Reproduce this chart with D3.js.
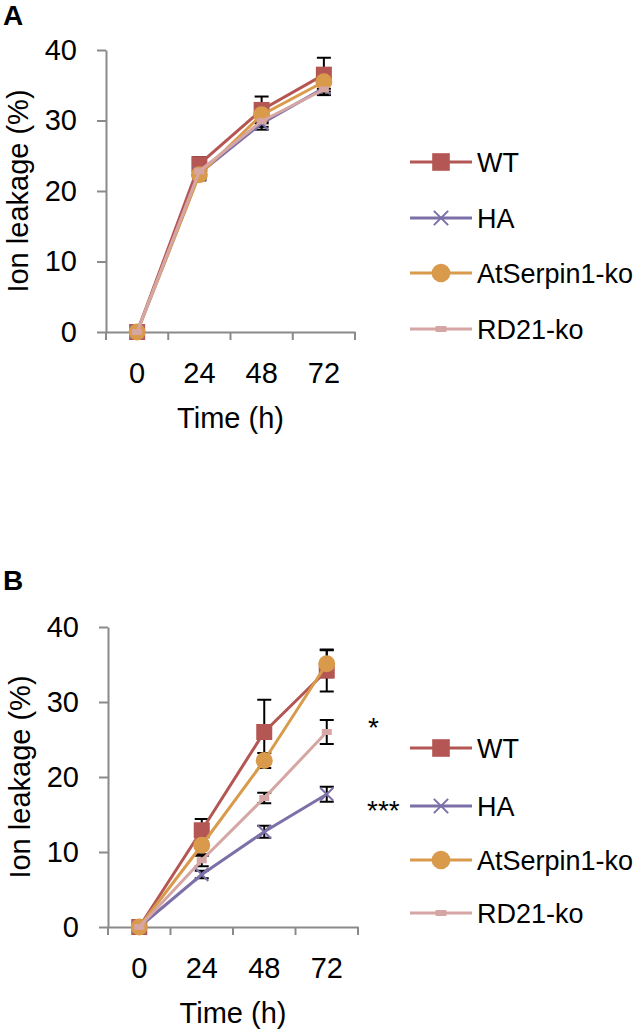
<!DOCTYPE html>
<html><head><meta charset="utf-8">
<script src="https://cdn.jsdelivr.net/npm/d3@7"></script>
<style>
body{margin:0;background:#fff;}
svg{display:block;font-family:"Liberation Sans",Arial,sans-serif;}
</style></head>
<body>
<svg id="c" width="641" height="1032"></svg>
<script>
const categories = ["0","24","48","72"];
const yTicks = [0,10,20,30,40];
const seriesNames = ["WT","HA","AtSerpin1-ko","RD21-ko"];
const seriesColors = ["#b45653","#7d70a8","#d99a4c","#d5a6a4"];
const seriesMarkers = ["square","cross","circle","dash"];

// Panel A
const aWT = [0, 23.8, 31.5, 36.5];
const aWTErr = [0, 1.0, 1.9, 2.4];
const aHA = [0, 22.5, 29.6, 34.6];
const aHAErr = [0, 0.8, 0.9, 0.9];
const aSerpin = [0, 22.3, 30.8, 35.5];
const aSerpinErr = [0, 0.8, 1.0, 1.0];
const aRD21 = [0, 22.8, 29.9, 34.4];
const aRD21Err = [0, 0.5, 0.8, 0.8];

// Panel B
const bWT = [0, 12.9, 26.0, 34.2];
const bWTErr = [0, 1.5, 4.3, 2.8];
const bHA = [0, 7.0, 12.7, 17.7];
const bHAErr = [0, 0.5, 0.8, 1.0];
const bSerpin = [0, 10.9, 22.2, 35.1];
const bSerpinErr = [0, 1.4, 1.0, 1.8];
const bRD21 = [0, 8.9, 17.2, 26.0];
const bRD21Err = [0, 0.8, 0.7, 1.6];
const bStars = ["*", "***", "", ""];

const svg = d3.select("#c");
const FONT = "Liberation Sans, Arial, sans-serif";

function drawPanel(o){
  const g = svg.append("g");
  const x = d3.scaleBand().domain(categories).range([o.x0, o.x1]);
  const y = d3.scaleLinear().domain([0,40]).range([o.y0, o.y1]);
  const axisColor = "#8a8a8a";

  // y axis
  const ya = g.append("g").attr("transform",`translate(${o.x0},0)`)
    .call(d3.axisLeft(y).tickValues(yTicks).tickSize(9).tickPadding(20).tickSizeOuter(0));
  ya.select(".domain").attr("stroke",axisColor).attr("stroke-width",2);
  ya.selectAll(".tick line").attr("stroke",axisColor).attr("stroke-width",2);
  ya.selectAll(".tick text").attr("font-size",29).attr("fill","#000").attr("font-family",FONT);

  // x axis
  const xa = g.append("g").attr("transform",`translate(0,${o.y0})`)
    .call(d3.axisBottom(x).tickSize(0).tickPadding(30).tickSizeOuter(0));
  xa.select(".domain").attr("stroke",axisColor).attr("stroke-width",2);
  xa.selectAll(".tick line").remove();
  xa.selectAll(".tick text").attr("font-size",29).attr("fill","#000").attr("font-family",FONT);
  // category boundary ticks
  const bounds = categories.map(c=>x(c)).concat([x(categories[categories.length-1])+x.bandwidth()]);
  g.selectAll(".xb").data(bounds).enter().append("line")
    .attr("x1",d=>d).attr("x2",d=>d).attr("y1",o.y0).attr("y2",o.y0+8)
    .attr("stroke",axisColor).attr("stroke-width",2);

  // titles
  g.append("text").attr("x",(o.x0+o.x1)/2).attr("y",o.y0+96).attr("text-anchor","middle")
    .attr("font-size",29).text("Time (h)");
  g.append("text").attr("transform",`translate(${o.x0-78},${(o.y0+o.y1)/2}) rotate(-90)`)
    .attr("text-anchor","middle").attr("font-size",29).text("Ion leakage (%)");
  g.append("text").attr("x",3).attr("y",o.labelY).attr("font-size",28).attr("font-weight","bold").text(o.label);

  const cx = c => x(c) + x.bandwidth()/2;

  // error bars
  o.series.forEach((s)=>{
    s.vals.forEach((v,i)=>{
      const e = s.err[i]; if(!e) return;
      const px = cx(categories[i]);
      const eg = g.append("g").attr("stroke","#000").attr("stroke-width",2);
      eg.append("line").attr("x1",px).attr("x2",px).attr("y1",y(v-e)).attr("y2",y(v+e));
      eg.append("line").attr("x1",px-7).attr("x2",px+7).attr("y1",y(v+e)).attr("y2",y(v+e));
      eg.append("line").attr("x1",px-7).attr("x2",px+7).attr("y1",y(v-e)).attr("y2",y(v-e));
    });
  });

  const line = d3.line().x((d,i)=>cx(categories[i])).y(d=>y(d));
  o.series.forEach((s,si)=>{
    g.append("path").attr("d",line(s.vals)).attr("fill","none")
      .attr("stroke",seriesColors[si]).attr("stroke-width",3);
    s.vals.forEach((v,i)=>drawMarker(g, seriesMarkers[si], cx(categories[i]), y(v), seriesColors[si], 1));
  });

  // legend
  seriesNames.forEach((n,i)=>{
    const ly = o.legY[i];
    g.append("line").attr("x1",410).attr("x2",472).attr("y1",ly).attr("y2",ly)
      .attr("stroke",seriesColors[i]).attr("stroke-width",3);
    drawMarker(g, seriesMarkers[i], 441, ly, seriesColors[i], 1.1);
    g.append("text").attr("x",477).attr("y",ly+10).attr("font-size",27).text(n);
    if (o.stars && o.stars[i]) {
      g.append("text").attr("x",o.starX[i]).attr("y",o.starY[i]).attr("font-size",28).text(o.stars[i]);
    }
  });
}

function drawMarker(g, type, px, py, color, k){
  if(type==="square"){
    const h = 8*k;
    g.append("rect").attr("x",px-h).attr("y",py-h).attr("width",2*h).attr("height",2*h).attr("fill",color);
  } else if(type==="circle"){
    g.append("circle").attr("cx",px).attr("cy",py).attr("r",8.5*k).attr("fill",color);
  } else if(type==="cross"){
    const h = 6.5*k;
    g.append("path").attr("d",`M${px-h},${py-h}L${px+h},${py+h}M${px-h},${py+h}L${px+h},${py-h}`)
      .attr("stroke",color).attr("stroke-width",2);
  } else if(type==="dash"){
    g.append("rect").attr("x",px-5*k).attr("y",py-3).attr("width",10*k).attr("height",6).attr("fill",color);
  }
}

drawPanel({x0:106,x1:355,y0:332,y1:50,label:"A",labelY:25,
  legY:[162,218,273,329],
  series:[{vals:aWT,err:aWTErr},{vals:aHA,err:aHAErr},{vals:aSerpin,err:aSerpinErr},{vals:aRD21,err:aRD21Err}]});
drawPanel({x0:108,x1:358,y0:927,y1:627,label:"B",labelY:590,
  legY:[748,806,860,913],
  stars:bStars, starX:[368,367], starY:[737,820],
  series:[{vals:bWT,err:bWTErr},{vals:bHA,err:bHAErr},{vals:bSerpin,err:bSerpinErr},{vals:bRD21,err:bRD21Err}]});
</script>
</body></html>
